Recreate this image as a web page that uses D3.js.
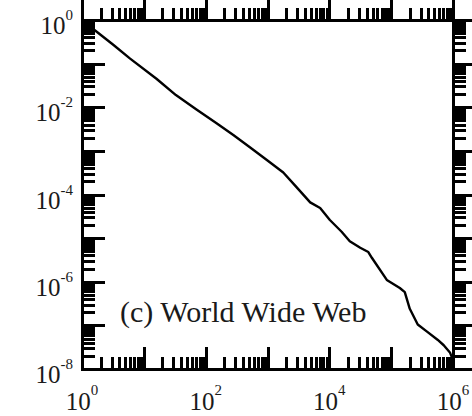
<!DOCTYPE html>
<html>
<head>
<meta charset="utf-8">
<script src="https://cdn.jsdelivr.net/npm/d3@7"></script>
<style>
  html, body { margin: 0; padding: 0; background: #fff; }
  svg { display: block; }
  svg text { font-family: "Liberation Serif", "DejaVu Serif", serif; }
</style>
</head>
<body>
<svg id="chart" width="472" height="416"></svg>
<script>
// degree k and probability P(k)
const degree = [1, 1.5, 3.2, 6, 16, 33, 71, 150, 280, 525, 1000, 1800, 2800, 4900, 7100,
  10200, 15800, 21400, 31600, 42700, 49000, 85000, 138000, 166000, 200000, 269000,
  380000, 562000, 708000, 891000, 1000000];
const prob = [0.95, 0.63, 0.27, 0.13, 0.045, 0.019, 8.9e-3, 4.3e-3, 2.3e-3, 1.2e-3, 6.0e-4,
  3.2e-4, 1.6e-4, 6.6e-5, 4.9e-5, 2.6e-5, 1.4e-5, 8.5e-6, 6.0e-6, 4.8e-6, 3.5e-6, 1.1e-6,
  7.2e-7, 5.8e-7, 2.4e-7, 1.05e-7, 7.2e-8, 4.7e-8, 3.5e-8, 2.4e-8, 1.6e-8];

const xMajor = [1, 1e2, 1e4, 1e6];
const xMajorExp = ['0', '2', '4', '6'];
const yMajor = [1, 1e-2, 1e-4, 1e-6, 1e-8];
const yMajorExp = ['0', '-2', '-4', '-6', '-8'];
const label = '(c) World Wide Web';

const L = 82, R = 453, T = 20, B = 369;
const svg = d3.select('#chart');

const x = d3.scaleLog().domain([1, 1e6]).range([L, R]);
const y = d3.scaleLog().domain([1e-8, 1]).range([B, T]);

const isDecade = v => Math.abs(Math.log10(v) - Math.round(Math.log10(v))) < 1e-9;
const xDecades = x.ticks().filter(isDecade);
const xMinor = x.ticks().filter(v => !isDecade(v));
const yDecades = y.ticks().filter(isDecade);
const yMinor = y.ticks().filter(v => !isDecade(v));

const MAJ = 22, MIN = 12.5;

function tickAxis(gen, pos, vals, size) {
  const g = svg.append('g')
    .attr('transform', pos)
    .call(gen.tickValues(vals).tickSize(-size).tickSizeOuter(0).tickFormat(''));
  g.select('.domain').remove();
  g.selectAll('.tick line')
    .attr('stroke', '#000').attr('stroke-width', 3)
    .attr('shape-rendering', 'crispEdges');
}

tickAxis(d3.axisBottom(x), `translate(0,${B})`, xDecades, MAJ);
tickAxis(d3.axisBottom(x), `translate(0,${B})`, xMinor, MIN);
tickAxis(d3.axisTop(x), `translate(0,${T})`, xDecades, -MAJ);
tickAxis(d3.axisTop(x), `translate(0,${T})`, xMinor, -MIN);
tickAxis(d3.axisLeft(y), `translate(${L},0)`, yDecades, MAJ + 1);
tickAxis(d3.axisLeft(y), `translate(${L},0)`, yMinor, MIN);
tickAxis(d3.axisRight(y), `translate(${R},0)`, yDecades, -MAJ);
tickAxis(d3.axisRight(y), `translate(${R},0)`, yMinor, -MIN);

// frame
svg.append('rect')
  .attr('x', L).attr('y', T).attr('width', R - L).attr('height', B - T)
  .attr('fill', 'none').attr('stroke', '#000').attr('stroke-width', 3)
  .attr('shape-rendering', 'crispEdges');

// data curve
svg.append('path')
  .datum(degree.map((k, i) => [k, prob[i]]))
  .attr('fill', 'none').attr('stroke', '#000').attr('stroke-width', 2.4)
  .attr('stroke-linejoin', 'round')
  .attr('d', d3.line().x(d => x(d[0])).y(d => y(d[1])));

// y labels
yMajor.forEach((v, i) => {
  const t = svg.append('text')
    .attr('x', 73).attr('y', y(v) + 14)
    .attr('text-anchor', 'end')
    .attr('fill', '#1a1a1a')
    .style('font-size', '25px');
  t.append('tspan').text('10');
  t.append('tspan').attr('dy', -14).style('font-size', '15px').text(yMajorExp[i]);
});

// x labels
xMajor.forEach((v, i) => {
  const t = svg.append('text')
    .attr('x', x(v)).attr('y', 410)
    .attr('text-anchor', 'middle')
    .attr('fill', '#1a1a1a')
    .style('font-size', '25px');
  t.append('tspan').text('10');
  t.append('tspan').attr('dy', -15).style('font-size', '15px').text(xMajorExp[i]);
});

svg.append('text')
  .attr('x', 120).attr('y', 322)
  .attr('fill', '#1a1a1a')
  .style('font-size', '30px')
  .text(label);
</script>
</body>
</html>
